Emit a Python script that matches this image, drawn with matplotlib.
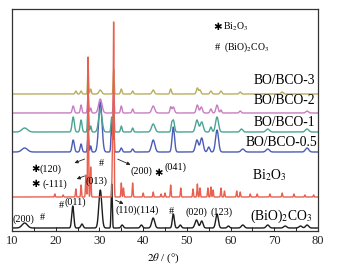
import numpy as np
import matplotlib
matplotlib.use("Agg")
import matplotlib.pyplot as plt

plt.rcParams['font.family'] = ['Liberation Serif', 'DejaVu Sans']
plt.rcParams['mathtext.fontset'] = 'stix'

# peak lists: position (deg), height, FWHM (deg)
bco_pos = [12.9, 23.9, 26.0, 30.2, 32.8, 35.2, 39.6, 42.3, 46.9, 48.5, 52.2, 53.4, 56.9, 59.5, 62.8, 68.5, 72.5, 76.0, 77.5]
bco_amp = [5, 22, 4, 38, 44, 3, 3, 10, 14, 3, 8, 7, 14, 2, 3, 3, 2, 2, 3]
bco_wid = [1.4, 0.55, 0.6, 0.8, 0.3, 0.6, 0.6, 0.8, 0.55, 0.6, 0.8, 0.7, 0.7, 0.6, 0.8, 0.8, 0.8, 0.8, 0.8]

bo_pos = [19.8, 21.7, 24.6, 25.8, 26.9, 27.4, 28.0, 33.0, 33.25, 35.0, 35.5, 37.6, 40.0, 42.3, 44.1, 45.0,
          46.3, 48.6, 51.4, 52.4, 53.0, 54.8, 55.5, 56.0, 57.8, 58.6, 61.4, 62.2, 64.5, 66.1, 69.0, 71.8,
          74.5, 77.0, 79.0]
bo_amp = [3, 2, 8, 12, 22, 140, 30, 55, 174, 14, 9, 14, 4, 5, 3, 4,
          12, 9, 8, 13, 9, 9, 10, 7, 9, 6, 6, 5, 3, 3, 3, 4,
          3, 2, 2]
bo_wid = [0.22] * len(bo_pos)

c05_pos = [12.9, 24.0, 25.8, 27.4, 28.0, 30.2, 32.8, 33.25, 35.0, 37.6, 42.3, 46.9, 52.3, 53.4, 55.0, 56.9, 62.8, 68.5, 77.5]
c05_amp = [4, 12, 8, 20, 6, 50, 30, 30, 4, 3, 12, 25, 12, 14, 5, 22, 3, 3, 4]
c05_wid = [1.5, 0.6, 0.5, 0.3, 0.35, 0.9, 0.35, 0.25, 0.5, 0.5, 0.9, 0.65, 0.8, 0.8, 0.6, 0.8, 0.9, 0.9, 0.9]

c1_pos = [12.9, 24.0, 25.8, 27.4, 28.0, 30.2, 32.8, 33.25, 35.0, 37.6, 42.3, 46.5, 46.9, 52.3, 53.4, 55.5, 56.9, 62.5, 68.5, 77.5]
c1_amp = [4, 15, 12, 25, 6, 22, 15, 30, 6, 4, 8, 6, 12, 12, 10, 5, 15, 3, 3, 3]
c1_wid = [1.5, 0.6, 0.5, 0.3, 0.35, 0.9, 0.35, 0.25, 0.4, 0.4, 0.9, 0.35, 0.6, 0.8, 0.8, 0.5, 0.8, 0.7, 0.9, 0.9]

c2_pos = [24.0, 25.8, 27.4, 28.0, 30.2, 33.25, 35.0, 37.6, 42.3, 46.3, 46.9, 52.4, 53.3, 55.5, 56.9, 57.8, 62.2, 77.5]
c2_amp = [7, 8, 20, 5, 14, 25, 7, 4, 7, 6, 6, 8, 6, 4, 8, 3, 2, 2]
c2_wid = [0.5, 0.4, 0.3, 0.35, 0.9, 0.25, 0.4, 0.4, 0.8, 0.4, 0.6, 0.6, 0.6, 0.5, 0.6, 0.4, 0.5, 0.7]

c3_pos = [24.6, 25.8, 27.4, 28.0, 30.2, 33.25, 35.0, 37.6, 42.3, 46.3, 52.4, 53.0, 55.5, 57.8, 62.2, 71.8]
c3_amp = [3, 3, 30, 5, 4, 25, 5, 3, 4, 5, 6, 4, 3, 3, 2, 2]
c3_wid = [0.4, 0.4, 0.25, 0.35, 0.7, 0.25, 0.4, 0.4, 0.6, 0.4, 0.5, 0.5, 0.5, 0.5, 0.5, 0.6]

names = ['(BiO)$_2$CO$_3$', 'Bi$_2$O$_3$', 'BO/BCO-0.5', 'BO/BCO-1', 'BO/BCO-2', 'BO/BCO-3']
colors = ['#1c1c1c', '#e8604f', '#4b5cb4', '#4aa493', '#c77ec2', '#b9ae5e']
offsets = [47, 78, 123, 143, 162, 181]

tt = np.arange(10, 80.01, 0.02)


def profile(pos, amp, wid):
    y = np.zeros_like(tt)
    for p, a, w in zip(pos, amp, wid):
        s = w / 2.355
        y += a * np.exp(-0.5 * ((tt - p) / s) ** 2)
    return y


series = [(bco_pos, bco_amp, bco_wid), (bo_pos, bo_amp, bo_wid), (c05_pos, c05_amp, c05_wid),
          (c1_pos, c1_amp, c1_wid), (c2_pos, c2_amp, c2_wid), (c3_pos, c3_amp, c3_wid)]

fig = plt.figure(figsize=(3.39, 2.75), dpi=100)
ax = fig.add_axes([12 / 339, 1 - 231 / 275, 306 / 339, 222 / 275])

# draw the red one last so its tall peaks sit on top
order = [0, 2, 3, 4, 5, 1]
for i in order:
    ax.plot(tt, profile(*series[i]) + offsets[i], color=colors[i], lw=1.0)

ax.set_xlim(10, 80)
ax.set_ylim(44, 266)
ax.set_yticks([])
ax.set_xticks(range(10, 81, 10))
ax.set_xticks(range(15, 80, 10), minor=True)
ax.tick_params(axis='x', which='both', direction='in', length=3, width=0.7, labelsize=9, pad=3, colors='#222')
for s in ax.spines.values():
    s.set_color('#333333')
    s.set_linewidth(0.9)

fig.text(163 / 339, 1 - 258 / 275, r'$2\theta$ / (°)', ha='center', va='center', fontsize=8)

# series labels
lab = dict(fontsize=9.8, va='center')
ax.text(65.3, 195, 'BO/BCO-3', ha='left', **lab)
ax.text(65.3, 175, 'BO/BCO-2', ha='left', **lab)
ax.text(65.3, 153, 'BO/BCO-1', ha='left', **lab)
ax.text(79.9, 132, 'BO/BCO-0.5', ha='right', **lab)
ax.text(64.9, 100, 'Bi$_2$O$_3$', ha='left', **lab)
ax.text(64.4, 59, '(BiO)$_2$CO$_3$', ha='left', **lab)

# legend of symbols
ax.text(57.1, 248, '✱', fontsize=7.5, ha='center', va='center', family='DejaVu Sans')
ax.text(58.2, 248, 'Bi$_2$O$_3$', fontsize=7, ha='left', va='center')
ax.text(57.1, 228, '#', fontsize=7.5, ha='center', va='center')
ax.text(58.5, 228, '(BiO)$_2$CO$_3$', fontsize=7, ha='left', va='center')

# peak indices
pk = dict(fontsize=7.3, va='center')
ax.text(10.1, 56, '(200)', ha='left', **pk)
ax.text(16.9, 57, '#', ha='center', **pk)
ax.text(21.2, 70, '#', ha='center', **pk)
ax.text(22.0, 73, '(011)', ha='left', **pk)
ax.text(29.3, 94, '(013)', ha='center', **pk)
ax.text(30.4, 111, '#', ha='center', **pk)
ax.text(33.6, 65, '(110)(114)', ha='left', **pk)
ax.text(46.4, 63, '#', ha='center', **pk)
ax.text(52.3, 63, '(020)', ha='center', **pk)
ax.text(58.0, 63, '(123)', ha='center', **pk)
ax.text(15.3, 106, '✱', ha='center', family='DejaVu Sans', **pk)
ax.text(16.4, 106, '(120)', ha='left', **pk)
ax.text(15.5, 91, '✱', ha='center', family='DejaVu Sans', **pk)
ax.text(16.9, 91, '(-111)', ha='left', **pk)
ax.text(39.5, 104, '(200)', ha='center', **pk)
ax.text(43.6, 102, '✱', ha='center', family='DejaVu Sans', **pk)
ax.text(45.0, 108, '(041)', ha='left', **pk)

arr = dict(arrowstyle='-|>', color='#222', lw=0.6, mutation_scale=5)
ax.annotate('', xy=(23.7, 111), xytext=(27.2, 117), arrowprops=arr)
ax.annotate('', xy=(24.2, 95), xytext=(27.2, 100), arrowprops=arr)
ax.annotate('', xy=(37.7, 109), xytext=(33.6, 117), arrowprops=arr)
ax.annotate('', xy=(36.1, 70), xytext=(33.1, 76), arrowprops=arr)

fig.savefig('out.png', dpi=100)
